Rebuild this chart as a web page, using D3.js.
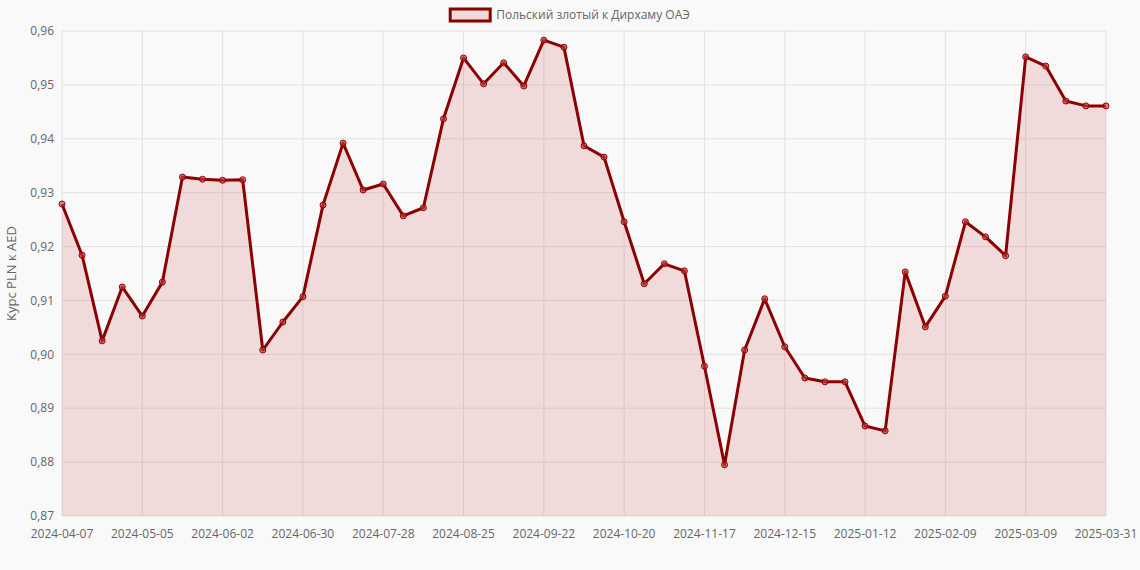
<!DOCTYPE html>
<html>
<head>
<meta charset="utf-8">
<script src="https://cdn.jsdelivr.net/npm/d3@7"></script>
<style>
  body { margin: 0; background: #f9f9f9; font-family: "Open Sans", "Noto Sans", sans-serif; }
  svg { display: block; }
</style>
</head>
<body>
<svg id="chart" width="1140" height="570"></svg>
<script>
// Подписи недель (последняя — конец периода)
const dates = [];
for (let i = 0; i < 52; i++) {
    const d = new Date(Date.UTC(2024, 3, 7 + i * 7));
    dates.push(d.toISOString().slice(0, 10));
}
dates.push("2025-03-31");

const rates = [
    0.9279, 0.9184, 0.9025, 0.9125, 0.9071, 0.9134, 0.9329, 0.9325, 0.9323, 0.9324,
    0.9008, 0.9060, 0.9107, 0.9277, 0.9392, 0.9305, 0.9316, 0.9257, 0.9272, 0.9437,
    0.9550, 0.9502, 0.9541, 0.9498, 0.9583, 0.9570, 0.9387, 0.9366, 0.9246, 0.9131,
    0.9168, 0.9155, 0.8978, 0.8795, 0.9008, 0.9103, 0.9014, 0.8956, 0.8949, 0.8949,
    0.8867, 0.8858, 0.9153, 0.9051, 0.9108, 0.9246, 0.9218, 0.9183, 0.9552, 0.9535,
    0.9470, 0.9461, 0.9461
];

const yTicks = [0.87, 0.88, 0.89, 0.90, 0.91, 0.92, 0.93, 0.94, 0.95, 0.96];
const seriesName = "Польский злотый к Дирхаму ОАЭ";
const axisTitle = "Курс PLN к AED";

const LINE = "#8b0000";
const svg = d3.select("#chart");
const margin = { top: 31, right: 34, bottom: 54, left: 62 };
const W = 1140, H = 570;
const cw = W - margin.left - margin.right, ch = H - margin.top - margin.bottom;

const x = d3.scalePoint().domain(dates).range([0, cw]);
const y = d3.scaleLinear().domain([0.87, 0.96]).range([ch, 0]);

const g = svg.append("g").attr("transform", `translate(${margin.left},${margin.top})`);

// Сетка
g.selectAll(".hgrid").data(yTicks).join("line")
    .attr("x1", 0).attr("x2", cw)
    .attr("y1", d => y(d)).attr("y2", d => y(d))
    .attr("stroke", "#e2e2e2");
const tickIdx = dates.map((d, i) => i).filter(i => i % 4 === 0 || i === dates.length - 1);
g.selectAll(".vgrid").data(tickIdx).join("line")
    .attr("x1", i => x(dates[i])).attr("x2", i => x(dates[i]))
    .attr("y1", 0).attr("y2", ch)
    .attr("stroke", "#e2e2e2");

// Область и линия
g.append("path").datum(rates)
    .attr("fill", "rgba(180,0,0,0.12)")
    .attr("d", d3.area().x((d, i) => x(dates[i])).y0(ch).y1(d => y(d)));
g.append("path").datum(rates)
    .attr("fill", "none").attr("stroke", LINE).attr("stroke-width", 3)
    .attr("stroke-linejoin", "round")
    .attr("d", d3.line().x((d, i) => x(dates[i])).y(d => y(d)));
g.selectAll(".pt").data(rates).join("circle")
    .attr("cx", (d, i) => x(dates[i])).attr("cy", d => y(d)).attr("r", 3)
    .attr("fill", "rgba(200,60,60,0.6)").attr("stroke", LINE).attr("stroke-width", 1);

// Подписи осей
g.selectAll(".ylab").data(yTicks).join("text")
    .attr("x", -8).attr("y", d => y(d)).attr("dy", "0.35em")
    .attr("text-anchor", "end").attr("font-size", 12).attr("fill", "#666")
    .text(d => d.toFixed(2).replace(".", ","));
g.selectAll(".xlab").data(tickIdx).join("text")
    .attr("x", i => x(dates[i])).attr("y", ch + 22)
    .attr("text-anchor", "middle").attr("font-size", 12).attr("fill", "#666")
    .text(i => dates[i]);

svg.append("text")
    .attr("transform", `translate(16,${margin.top + ch / 2}) rotate(-90)`)
    .attr("text-anchor", "middle").attr("font-size", 13).attr("fill", "#666")
    .text(axisTitle);

// Легенда
const leg = svg.append("g").attr("transform", "translate(570,15)");
const lt = leg.append("text").attr("x", 0).attr("y", 0).attr("dy", "0.35em")
    .attr("font-size", 12).attr("fill", "#666").text(seriesName);
const tw = lt.node().getComputedTextLength();
const total = 40 + 6 + tw;
lt.attr("x", -total / 2 + 46);
leg.append("rect").attr("x", -total / 2).attr("y", -6).attr("width", 40).attr("height", 12)
    .attr("fill", "rgba(180,0,0,0.12)").attr("stroke", LINE).attr("stroke-width", 3);
</script>
</body>
</html>
